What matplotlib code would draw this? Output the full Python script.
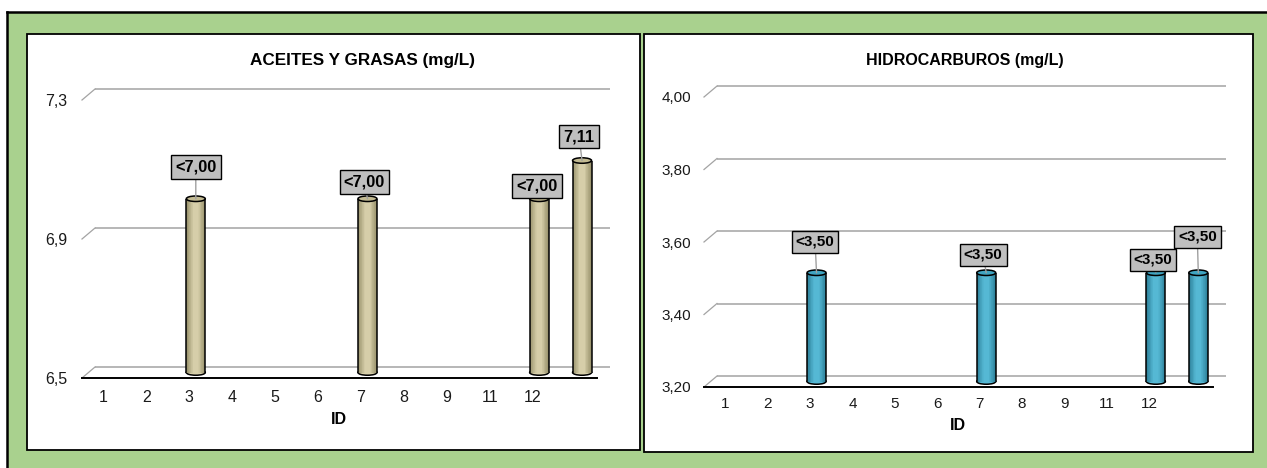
import numpy as np
import matplotlib
matplotlib.use("Agg")
import matplotlib.pyplot as plt
from matplotlib.patches import Rectangle, Ellipse
from matplotlib.transforms import ScaledTranslation
from matplotlib.colors import LinearSegmentedColormap

plt.rcParams['font.family'] = ['Liberation Sans', 'DejaVu Sans']

# ---- data -------------------------------------------------------------
ids = ["1", "2", "3", "4", "5", "6", "7", "8", "9", "11", "12", ""]

aceites = [np.nan, np.nan, 7.00, np.nan, np.nan, np.nan, 7.00,
           np.nan, np.nan, np.nan, 7.00, 7.11]
aceites_text = ["", "", "<7,00", "", "", "", "<7,00", "", "", "", "<7,00", "7,11"]
aceites_ticks = [6.5, 6.9, 7.3]
aceites_ticklabels = ["6,5", "6,9", "7,3"]

hidro = [np.nan, np.nan, 3.50, np.nan, np.nan, np.nan, 3.50,
         np.nan, np.nan, np.nan, 3.50, 3.50]
hidro_text = ["", "", "<3,50", "", "", "", "<3,50", "", "", "", "<3,50", "<3,50"]
hidro_ticks = [3.20, 3.40, 3.60, 3.80, 4.00]
hidro_ticklabels = ["3,20", "3,40", "3,60", "3,80", "4,00"]

# ---- layout (pixels) ----------------------------------------------------
W, H, DPI = 1267, 468, 100
DEPTH = (13.0, 11.0)          # offset of the back wall in pixels
BAR_W_PX, ELL_H_PX = 19.0, 5.5
GRID = "#A3A3A3"
GREEN = "#A9D18E"

fig = plt.figure(figsize=(W / DPI, H / DPI), dpi=DPI, facecolor="white")

bg = fig.add_axes([0, 0, 1, 1])
bg.set_xlim(0, W)
bg.set_ylim(H, 0)
bg.axis("off")
bg.add_patch(Rectangle((7, 12), W, H, fc=GREEN, ec="none", clip_on=False))
bg.plot([7, 7], [12, H + 5], color="black", lw=1.8, solid_capstyle="projecting")
bg.plot([7, W + 5], [12, 12], color="black", lw=1.8, solid_capstyle="projecting")
bg.add_patch(Rectangle((27, 34), 613, 416, fc="white", ec="black", lw=1.3))
bg.add_patch(Rectangle((644, 34), 609, 418, fc="white", ec="black", lw=1.3))


def px_axes(x0, x1, y_bottom, y_top):
    return fig.add_axes([x0 / W, 1 - y_bottom / H, (x1 - x0) / W, (y_bottom - y_top) / H])


def draw_chart(ax, values, texts, offsets, ticks, ticklabels, palette,
               tick_fs, label_fs, xpad, ypad):
    ymin, ymax = ticks[0], ticks[-1]
    n_cat = len(ids)
    ax.set_xlim(-0.5, n_cat - 0.5)
    ax.set_ylim(ymin, ymax)
    ax.patch.set_alpha(0)
    for s in ("left", "right", "top"):
        ax.spines[s].set_visible(False)
    ax.spines["bottom"].set_color("black")
    ax.spines["bottom"].set_linewidth(1.4)
    ax.spines["bottom"].set_zorder(5)

    pos = ax.get_position()
    ppx = pos.width * W / n_cat
    ppy = pos.height * H / (ymax - ymin)
    ddx, ddy = DEPTH[0] / ppx, DEPTH[1] / ppy
    back = ax.transData + ScaledTranslation(DEPTH[0] / DPI, DEPTH[1] / DPI, fig.dpi_scale_trans)
    mid = ax.transData + ScaledTranslation(DEPTH[0] / 2 / DPI, DEPTH[1] / 2 / DPI,
                                           fig.dpi_scale_trans)

    x0, x1 = ax.get_xlim()
    for t in ticks:
        ax.plot([x0, x1], [t, t], transform=back, color=GRID, lw=1.1,
                clip_on=False, zorder=1, solid_capstyle="butt")
        ax.plot([x0, x0 + ddx], [t, t + ddy], color=GRID, lw=0.9,
                clip_on=False, zorder=1)

    ax.set_yticks(ticks, ticklabels, fontsize=tick_fs)
    ax.set_xticks(np.arange(n_cat), ids, fontsize=tick_fs)
    ax.tick_params(axis="both", length=0, colors="#1A1A1A")
    ax.tick_params(axis="x", pad=xpad)
    ax.tick_params(axis="y", pad=ypad)

    xs = np.arange(n_cat)
    vals = np.asarray(values, float)
    has = ~np.isnan(vals)
    bx, bv = xs[has], vals[has]
    w = BAR_W_PX / ppx
    eh = ELL_H_PX / ppy

    dark, light, top = palette
    cmap = LinearSegmentedColormap.from_list(
        "cyl", [(0.0, dark), (0.38, light), (0.62, light), (1.0, dark)])

    for x in bx:
        ax.add_patch(Ellipse((x, ymin), w, eh, transform=mid, fc=cmap(0.5),
                             ec="black", lw=1.1, zorder=2.9, clip_on=False))
    nstrip = 30
    for k in range(nstrip):
        t = (k + 0.5) / nstrip
        ax.bar(bx - w / 2 + t * w, bv - ymin, bottom=ymin, width=w / nstrip * 1.1,
               color=cmap(t), lw=0, transform=mid, zorder=3, clip_on=False)
    ax.vlines(np.concatenate([bx - w / 2, bx + w / 2]), ymin,
              np.concatenate([bv, bv]), colors="black", lw=1.1,
              transform=mid, zorder=3.5, clip_on=False)
    for x, v in zip(bx, bv):
        ax.add_patch(Ellipse((x, v), w, eh, transform=mid, fc=top,
                             ec="black", lw=1.1, zorder=4, clip_on=False))

    for (x, v), txt, (dx, dy) in zip(zip(bx, bv), np.asarray(texts)[has], offsets):
        ax.annotate(txt, xy=(x, v), xycoords=mid, xytext=(dx, dy),
                    textcoords="offset pixels", ha="center", va="center",
                    fontsize=label_fs, fontweight="bold", color="black",
                    bbox=dict(boxstyle="square,pad=0.26", fc="#BFBFBF", ec="black", lw=1.0),
                    arrowprops=dict(arrowstyle="-", color="#A0A0A0", lw=1.0,
                                    shrinkA=0, shrinkB=0),
                    zorder=6, annotation_clip=False)


# left chart: oils and greases
ax1 = px_axes(82, 597, 378, 100)
draw_chart(ax1, aceites, aceites_text,
           [(0, 32), (-3, 17), (-2, 12.5), (-3, 24)],
           aceites_ticks, aceites_ticklabels,
           ("#968F69", "#D6CEA9", "#C2BA92"),
           tick_fs=11.5, label_fs=11.8, xpad=8.5, ypad=10.5)
bg.text(362, 60, "ACEITES Y GRASAS (mg/L)", ha="center", va="center",
        fontsize=12.3, fontweight="bold")
bg.text(339, 420, "ID", ha="center", va="center", fontsize=11.5, fontweight="bold")

# right chart: hydrocarbons
ax2 = px_axes(704, 1213, 387, 97)
draw_chart(ax2, hidro, hidro_text,
           [(-1.5, 31), (-3, 18), (-3, 13), (-1, 36)],
           hidro_ticks, hidro_ticklabels,
           ("#2C7F98", "#55B8D4", "#3FA4C1"),
           tick_fs=11, label_fs=11, xpad=7.5, ypad=9.4)
bg.text(965, 60, "HIDROCARBUROS (mg/L)", ha="center", va="center",
        fontsize=11.5, fontweight="bold")
bg.text(958, 425, "ID", ha="center", va="center", fontsize=11.5, fontweight="bold")

fig.savefig("out.png", dpi=DPI, facecolor=fig.get_facecolor())
